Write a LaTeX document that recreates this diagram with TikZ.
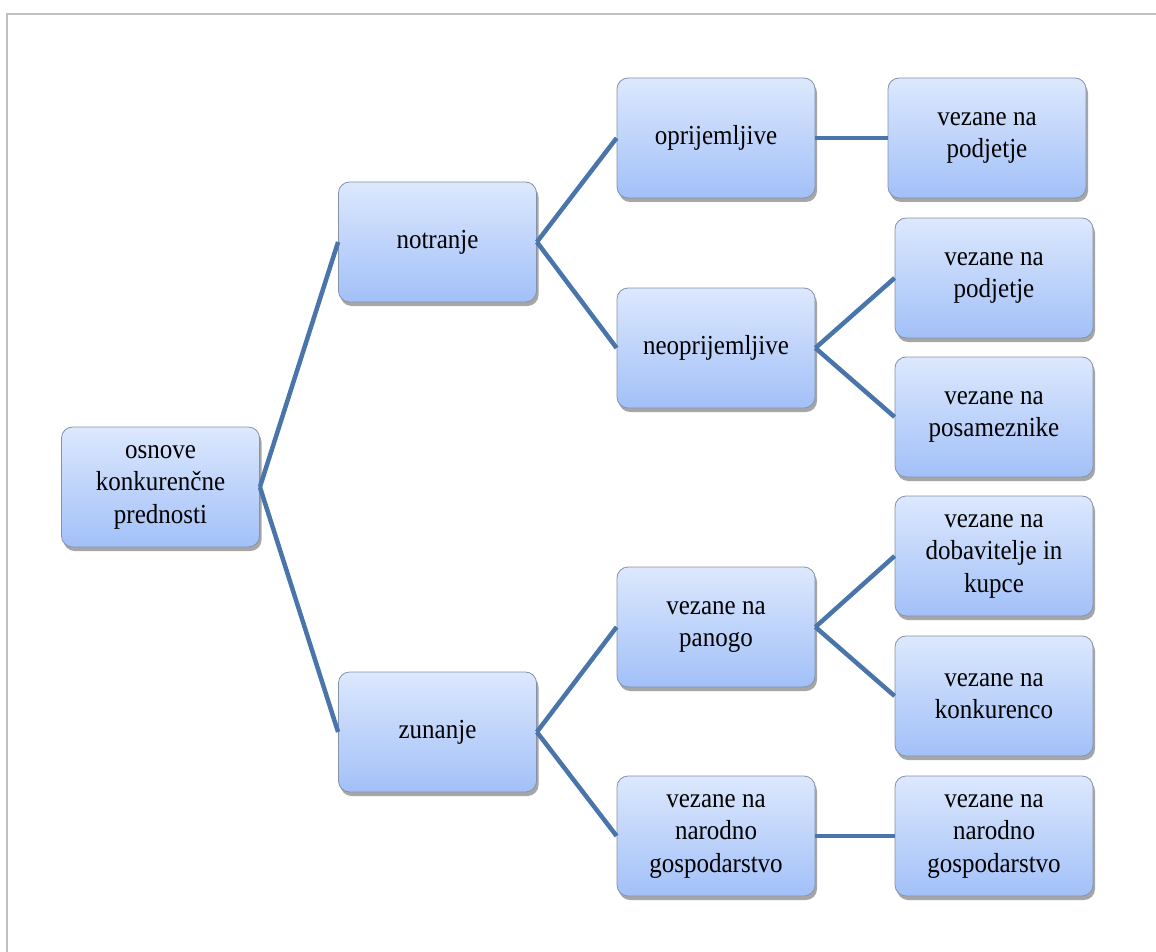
\documentclass[tikz,border=0pt]{standalone}
\usepackage{fontspec}
\setmainfont{Liberation Serif}[FakeStretch=0.91]
\usetikzlibrary{shadows}
\definecolor{boxtop}{HTML}{DCE8FD}
\definecolor{boxbot}{HTML}{A2C0F8}
\definecolor{boxedge}{HTML}{8592A8}
\definecolor{linkblue}{HTML}{4A75AB}
\definecolor{frame}{HTML}{C0C0C0}
\begin{document}
\begin{tikzpicture}[x=1pt,y=-1pt,
  box/.style={rectangle, rounded corners=11pt, draw=boxedge, line width=0.8pt,
    top color=boxtop, bottom color=boxbot,
    minimum width=198pt, minimum height=120pt, inner sep=2pt,
    align=center,
    font=\fontsize{27.5}{32.5}\selectfont,
    drop shadow={shadow xshift=2pt, shadow yshift=-4pt, opacity=0.35, fill=black}},
  link/.style={draw=linkblue, line width=4.5pt}]
\useasboundingbox (0,0) rectangle (1156,952);
% outer frame (top and left edges only)
\draw[frame, line width=2pt] (7,952) -- (7,14) -- (1156,14);

% level 0
\node[box] (root) at (160.5,487) {osnove\\konkurenčne\\prednosti};
% level 1
\node[box] (in)  at (437.5,242) {notranje};
\node[box] (out) at (437.5,732) {zunanje};
% level 2
\node[box] (tang)   at (716,138) {oprijemljive};
\node[box] (intang) at (716,348) {neoprijemljive};
\node[box] (ind)    at (716,627) {vezane na\\panogo};
\node[box] (nat)    at (716,836) {vezane na\\narodno\\gospodarstvo};
% level 3
\node[box] (tangfirm)   at (987,138) {vezane na\\podjetje};
\node[box] (intfirm)    at (994,278) {vezane na\\podjetje};
\node[box] (intpers)    at (994,417) {vezane na\\posameznike};
\node[box] (indsup)     at (994,556) {vezane na\\dobavitelje in\\kupce};
\node[box] (indcomp)    at (994,696) {vezane na\\konkurenco};
\node[box] (natecon)    at (994,836) {vezane na\\narodno\\gospodarstvo};

% connectors
\draw[link] (root.east) -- (in.west);
\draw[link] (root.east) -- (out.west);
\draw[link] (in.east) -- (tang.west);
\draw[link] (in.east) -- (intang.west);
\draw[link] (out.east) -- (ind.west);
\draw[link] (out.east) -- (nat.west);
\draw[link] (tang.east) -- (tangfirm.west);
\draw[link] (intang.east) -- (intfirm.west);
\draw[link] (intang.east) -- (intpers.west);
\draw[link] (ind.east) -- (indsup.west);
\draw[link] (ind.east) -- (indcomp.west);
\draw[link] (nat.east) -- (natecon.west);
\end{tikzpicture}
\end{document}
